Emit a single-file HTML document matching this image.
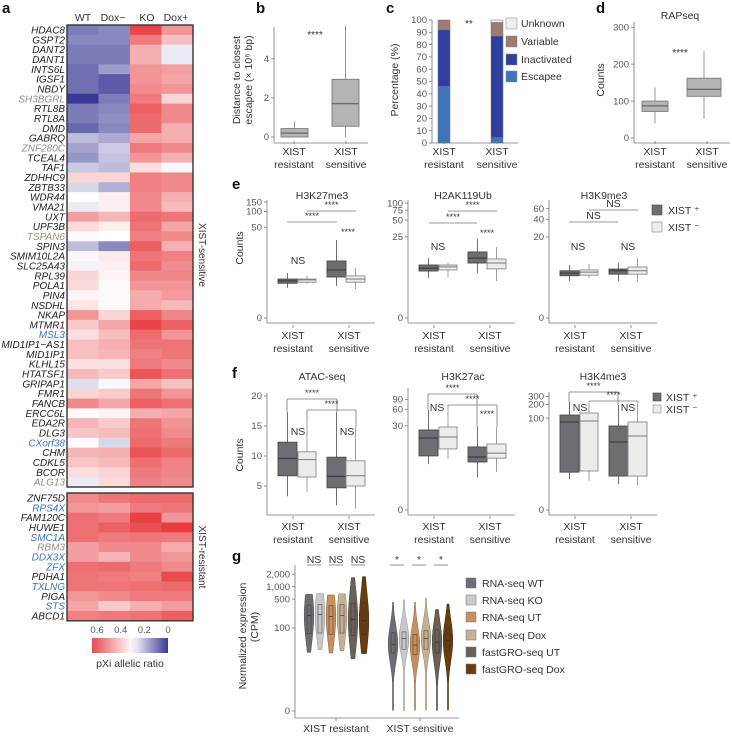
<!DOCTYPE html>
<html><head><meta charset="utf-8">
<style>
html,body{margin:0;padding:0;background:#fff;}
svg{display:block;font-family:"Liberation Sans",Arial,sans-serif;}
</style></head>
<body>
<svg id="fig" width="732" height="738" viewBox="0 0 732 738" xmlns="http://www.w3.org/2000/svg"></svg>
<script>
// ---------- DATA ----------
const geneNamesSens = ["HDAC8","GSPT2","DANT2","DANT1","INTS6L","IGSF1","NBDY","SH3BGRL","RTL8B","RTL8A","DMD","GABRQ","ZNF280C","TCEAL4","TAF1","ZDHHC9","ZBTB33","WDR44","VMA21","UXT","UPF3B","TSPAN6","SPIN3","SMIM10L2A","SLC25A43","RPL39","POLA1","PIN4","NSDHL","NKAP","MTMR1","MSL3","MID1IP1−AS1","MID1IP1","KLHL15","HTATSF1","GRIPAP1","FMR1","FANCB","ERCC6L","EDA2R","DLG3","CXorf38","CHM","CDKL5","BCOR","ALG13"];
const geneNamesRes = ["ZNF75D","RPS4X","FAM120C","HUWE1","SMC1A","RBM3","DDX3X","ZFX","PDHA1","TXLNG","PIGA","STS","ABCD1"];
const heatColumns = ["WT","Dox−","KO","Dox+"];
const heatSens = [
[0.10,0.12,0.65,0.50],[0.12,0.12,0.55,0.42],[0.10,0.10,0.45,0.27],[0.10,0.10,0.45,0.27],
[0.08,0.15,0.50,0.48],[0.08,0.05,0.50,0.47],[0.08,0.05,0.52,0.50],[0.00,0.10,0.55,0.38],
[0.10,0.12,0.60,0.52],[0.10,0.13,0.58,0.52],[0.07,0.12,0.58,0.45],[0.20,0.17,0.47,0.45],
[0.16,0.22,0.55,0.52],[0.14,0.21,0.50,0.45],[0.22,0.20,0.36,0.29],[0.38,0.38,0.54,0.52],
[0.24,0.18,0.54,0.52],[0.30,0.33,0.52,0.45],[0.27,0.33,0.52,0.43],[0.48,0.44,0.58,0.56],
[0.37,0.33,0.56,0.47],[0.31,0.30,0.54,0.52],[0.20,0.12,0.60,0.45],[0.29,0.34,0.56,0.54],
[0.28,0.33,0.58,0.52],[0.38,0.32,0.53,0.53],[0.37,0.31,0.50,0.50],[0.32,0.31,0.46,0.49],
[0.35,0.31,0.46,0.43],[0.50,0.38,0.60,0.53],[0.40,0.47,0.65,0.60],[0.36,0.42,0.58,0.50],
[0.42,0.45,0.56,0.56],[0.42,0.44,0.54,0.56],[0.36,0.36,0.55,0.52],[0.43,0.40,0.62,0.57],
[0.25,0.29,0.47,0.42],[0.38,0.40,0.56,0.50],[0.52,0.47,0.60,0.57],[0.31,0.32,0.45,0.47],
[0.44,0.40,0.56,0.50],[0.41,0.43,0.57,0.52],[0.31,0.24,0.58,0.55],[0.44,0.45,0.62,0.58],
[0.41,0.43,0.57,0.54],[0.36,0.38,0.55,0.53],[0.27,0.37,0.54,0.52]];
const heatRes = [
[0.52,0.56,0.58,0.58],[0.50,0.48,0.55,0.56],[0.57,0.55,0.66,0.50],[0.57,0.60,0.63,0.67],
[0.57,0.55,0.56,0.55],[0.48,0.52,0.52,0.46],[0.48,0.44,0.52,0.50],[0.57,0.58,0.55,0.52],
[0.56,0.55,0.54,0.64],[0.56,0.56,0.57,0.58],[0.50,0.52,0.55,0.55],[0.47,0.40,0.45,0.48],
[0.54,0.55,0.56,0.60]];
const geneGrey = ["SH3BGRL","ZNF280C","TSPAN6","ALG13","RBM3"];
const geneBlue = ["MSL3","CXorf38","RPS4X","SMC1A","DDX3X","ZFX","TXLNG","STS"];
const colorbarTicks = [0.6,0.4,0.2,0];

// panel b: [min,q1,median,q3,max] in 10^6 bp
const bCategories = ["XIST resistant","XIST sensitive"];
const bStats = [[0,0.0,0.2,0.43,0.8],[0,0.55,1.7,2.95,5.7]];
const bTicks = [0,2,4];
// panel c
const cEscapee = [46,4.5];
const cInactivated = [46,82.5];
const cVariable = [8,11];
const cUnknown = [0,2];
const cTicks = [0,10,20,30,40,50,60,70,80,90,100];
// panel d
const dStats = [[40,72,87,100,137],[52,113,132,162,235]];
const dTicks = [0,100,200,300];
// panel e: [X+ res, X- res, X+ sens, X- sens]
const eK27Stats = [[2.7,3.5,4.0,4.4,6.0],[3.4,3.7,4.2,4.4,5.2],[3.0,4.9,7.0,10.8,28.3],[2.5,3.7,4.4,5.2,7.7]];
const eK27Ticks = [0,50,100,150];
const eK119Stats = [[4.0,5.6,6.4,7.4,10.1],[4.2,5.9,6.8,7.4,8.1],[5.1,8.1,10.1,13.2,22.9],[3.4,6.2,8.1,9.7,16.3]];
const eK119Ticks = [0,25,50,75,100];
const eK9Stats = [[3.0,3.9,4.4,4.9,6.3],[3.5,4.0,4.6,5.1,6.6],[3.0,4.2,4.9,5.3,6.9],[2.9,4.2,4.9,5.8,8.5]];
const eK9Ticks = [0,20,40,60];
// panel f
const fAtacStats = [[3.3,6.7,9.6,12.3,17.3],[4.0,6.5,9.4,10.7,15.7],[1.8,4.7,6.6,9.8,17.3],[1.2,5.0,6.7,9.2,14.8]];
const fAtacTicks = [5,10,15,20];
const fK27acStats = [[5.5,8.1,17.9,25.2,58.3],[7.0,11.1,18.7,28.6,65.9],[2.8,6.1,7.7,12.1,28.6],[3.7,7.3,9.2,13.8,28.6]];
const fK27acTicks = [0,30,60,90];
const fK4Stats = [[3.7,5.7,82.3,117,226],[3.3,6.1,86.5,130,226],[2.7,4.5,29.5,67,195],[2.5,4.5,40.2,82.3,215]];
const fK4Ticks = [0,100,200,300];
// panel g: [min,q1,median,q3,max] CPM
const gSeries = ["RNA-seq WT","RNA-seq KO","RNA-seq UT","RNA-seq Dox","fastGRO-seq UT","fastGRO-seq Dox"];
const gResistant = [[24,72,200,360,650],[28,75,210,370,680],[24,70,190,350,630],[26,75,200,370,670],[17,65,160,400,1650],[22,70,150,420,1750]];
const gSensitive = [[0,24,40,76,420],[0,30,55,80,480],[0,22,38,70,420],[0,30,55,85,520],[0,24,45,90,280],[0,28,50,100,380]];
const gTicks = [0,100,500,1000,2000];
const gTickLabels = ["0","100","500","1,000","2,000"];

// ---------- HELPERS ----------
const NS="http://www.w3.org/2000/svg";
const svg=document.getElementById('fig');
function el(tag,attrs,name,parent){
  const e=document.createElementNS(NS,tag);
  for(const k in attrs) e.setAttribute(k,attrs[k]);
  
  
  (parent||svg).appendChild(e);
  return e;
}
function txt(x,y,s,name,opts){
  opts=opts||{};
  const t=el('text',{x:x,y:y,'font-size':opts.size||10,fill:opts.fill||'#333','text-anchor':opts.anchor||'middle'},name);
  if(opts.weight) t.setAttribute('font-weight',opts.weight);
  if(opts.style) t.setAttribute('font-style',opts.style);
  if(opts.rot) t.setAttribute('transform','rotate('+opts.rot+' '+x+' '+y+')');
  t.textContent=s;
  return t;
}
function line(x1,y1,x2,y2,name,stroke,w){
  return el('line',{x1:x1,y1:y1,x2:x2,y2:y2,stroke:stroke||'#777','stroke-width':w||0.8},name);
}
function logScale(base,k){return v=>base-k*Math.log(1+v);}
function linScale(base,k){return v=>base-k*v;}
function hex(c){return 'rgb('+c.map(Math.round).join(',')+')';}
function heatColor(v){
  const red=[228,32,36],white=[255,255,255],blue=[58,58,150];
  if(v>=0.3){let t=Math.min(1,(v-0.3)/0.42);return hex(white.map((w,i)=>w+(red[i]-w)*t));}
  let t=Math.min(1,(0.3-v)/0.3);return hex(white.map((w,i)=>w+(blue[i]-w)*t));
}

// ---------- PANEL LETTERS ----------
[["a",2,13],["b",256,13],["c",386,13],["d",596,13],["e",232,189],["f",232,378],["g",232,561]].forEach(p=>{
  txt(p[1],p[2],p[0],'panel-label-'+p[0],{size:15,weight:'bold',anchor:'start',fill:'#111'});
});

// ---------- PANEL A: HEATMAP ----------
(function(){
  const x0=67,cw=31.5,rh=9.83;
  const colCx=[83,113,147,176];
  heatColumns.forEach((c,i)=>txt(colCx[i],21,c,'heatmap-column-label',{size:10.5}));
  function block(names,vals,top,nm){
    vals.forEach((row,r)=>{
      row.forEach((v,c)=>{
        el('rect',{x:x0+c*cw,y:top+r*rh,width:cw+0.4,height:rh+0.4,fill:heatColor(v)},'heatmap-cell');
      });
      const g=names[r];
      const col=geneGrey.includes(g)?'#9a8a80':(geneBlue.includes(g)?'#3d72c2':'#222');
      txt(65,top+r*rh+rh/2+3.6,g,'gene-label',{size:10,anchor:'end',style:'italic',fill:col});
    });
    el('rect',{x:x0,y:top,width:cw*4,height:vals.length*rh,fill:'none',stroke:'#333','stroke-width':1.4},nm);
  }
  block(geneNamesSens,heatSens,25,'xist-sensitive-block');
  block(geneNamesRes,heatRes,493,'xist-resistant-block');
  txt(199,255,'XIST-sensitive','xist-sensitive-label',{size:10,rot:90});
  txt(199,557,'XIST-resistant','xist-resistant-label',{size:10,rot:90});
  const defs=el('defs',{},'defs');
  const lg=el('linearGradient',{id:'cb',x1:'0',x2:'1',y1:'0',y2:'0'},'colorbar-gradient',defs);
  for(let i=0;i<=10;i++){
    const v=0.64-0.064*i;
    el('stop',{offset:(i*10)+'%','stop-color':heatColor(v)},'gradient-stop',lg);
  }
  el('rect',{x:92,y:638,width:76,height:15,fill:'url(#cb)'},'colorbar');
  const cbx=v=>168-v*118.3;
  colorbarTicks.forEach(t=>txt(cbx(t),633,String(t),'colorbar-tick',{size:9.5,fill:'#555'}));
  txt(130,667,'pXi allelic ratio','colorbar-title',{size:10.5});
})();

// ---------- BOX HELPER ----------
function drawBox(s,x0,x1,y,fill,stroke,medStroke,name){
  const cx=(x0+x1)/2;
  line(cx,y(s[4]),cx,y(s[3]),name+'-whisker-top',stroke,0.8);
  line(cx,y(s[1]),cx,y(s[0]),name+'-whisker-bottom',stroke,0.8);
  el('rect',{x:x0,y:y(s[3]),width:x1-x0,height:Math.max(0.8,y(s[1])-y(s[3])),fill:fill,stroke:stroke,'stroke-width':0.9},name);
  line(x0,y(s[2]),x1,y(s[2]),name+'-median',medStroke,1);
}
function yAxis(x,yTop,yBot,ticks,y,labels,name){
  line(x,yTop,x,yBot,name,'#777',0.8);
  ticks.forEach((t,i)=>{
    line(x-3,y(t),x,y(t),name+'-tick','#777',0.8);
    txt(x-5,y(t)+3.2,labels?labels[i]:String(t),name+'-tick-label',{size:9.5,anchor:'end',fill:'#555'});
  });
}
function xLabels(cxs,y1,name){
  cxs.forEach((cx,i)=>{
    line(cx,y1-12,cx,y1-9,name+'-tick','#777',0.8);
    txt(cx,y1+2,'XIST',name+'-label',{size:10.5});
    txt(cx,y1+15,i==0?'resistant':'sensitive',name+'-label',{size:10.5});
  });
}
function bracket(x1,x2,y,label,name,drops){
  line(x1,y,x2,y,name,'#777',0.8);
  if(drops){line(x1,y,x1,drops[0],name+'-drop','#777',0.8);line(x2,y,x2,drops[1],name+'-drop','#777',0.8);}
  txt((x1+x2)/2,y-3,label,name+'-label',{size:label=='NS'?10.5:9,fill:'#333'});
}

// ---------- PANEL B ----------
(function(){
  const y=linScale(137,19.55);
  yAxis(274,27,143,bTicks,y,null,'b-y-axis');
  line(274,143,368,143,'b-x-axis','#777',0.8);
  drawBox(bStats[0],281,308,y,'#b4b4b4','#7a7a7a','#555','b-box-resistant');
  drawBox(bStats[1],332,359,y,'#b4b4b4','#7a7a7a','#555','b-box-sensitive');
  txt(315,38,'****','b-significance',{size:10});
  xLabels([294,346],153,'b-x');
  txt(240,80,'Distance to closest','b-y-title',{size:10.5,rot:-90});
  txt(252,80,'escapee (× 10⁶ bp)','b-y-title',{size:10.5,rot:-90});
})();

// ---------- PANEL C ----------
(function(){
  const y=linScale(143,1.23);
  yAxis(432,20,143,cTicks,y,null,'c-y-axis');
  line(432,143,518,143,'c-x-axis','#777',0.8);
  const xs=[438,491],w=12;
  const layers=[[cEscapee,'#3f74ba','escapee'],[cInactivated,'#2e3f9f','inactivated'],[cVariable,'#9b7c70','variable'],[cUnknown,'#eeeeee','unknown']];
  [0,1].forEach(i=>{
    let acc=0;
    layers.forEach(L=>{
      const v=L[0][i];
      if(v>0) el('rect',{x:xs[i],y:y(acc+v),width:w,height:y(acc)-y(acc+v),fill:L[1],stroke:'#777','stroke-width':0.5},'c-bar-'+L[2]);
      acc+=v;
    });
  });
  txt(469,27,'**','c-significance',{size:10});
  xLabels([444,497],153,'c-x');
  txt(398,80,'Percentage (%)','c-y-title',{size:10.5,rot:-90});
  const leg=[['Unknown','#eeeeee',23],['Variable','#9b7c70',41],['Inactivated','#2e3f9f',59],['Escapee','#3f74ba',76]];
  leg.forEach(L=>{
    el('rect',{x:506,y:L[2]-5,width:11,height:11,fill:L[1],stroke:'#888','stroke-width':0.5},'c-legend-swatch');
    txt(521,L[2]+4,L[0],'c-legend-label',{size:10.5,anchor:'start'});
  });
})();

// ---------- PANEL D ----------
(function(){
  const y=linScale(138,0.369);
  yAxis(634,22,143,dTicks,y,null,'d-y-axis');
  line(634,143,730,143,'d-x-axis','#777',0.8);
  drawBox(dStats[0],642,668,y,'#b4b4b4','#7a7a7a','#555','d-box-resistant');
  drawBox(dStats[1],687,721,y,'#b4b4b4','#7a7a7a','#555','d-box-sensitive');
  txt(680,19,'RAPseq','d-title',{size:10.5});
  txt(680,56,'****','d-significance',{size:10});
  xLabels([655,707],153,'d-x');
  txt(604,80,'Counts','d-y-title',{size:10.5,rot:-90});
})();

// ---------- PANELS E/F ----------
function fourBox(stats,ax,y,name){
  const xs=[[ax+11,ax+30],[ax+31,ax+49],[ax+60,ax+79],[ax+79,ax+98]];
  stats.forEach((s,i)=>{
    const pos=i%2==0;
    drawBox(s,xs[i][0],xs[i][1],y,pos?'#6e6e72':'#ececec',pos?'#4a4a4e':'#8a8a8a',pos?'#333':'#777',name+'-box-'+(i<2?'resistant':'sensitive')+(pos?'-xist-pos':'-xist-neg'));
  });
  return xs.map(a=>(a[0]+a[1])/2);
}
(function(){
  const base=318;
  const defs=[[eK27Stats,eK27Ticks,267,375,23.1,'H3K27me3',322,'e-h3k27me3'],[eK119Stats,eK119Ticks,408,515,24.9,'H2AK119Ub',463,'e-h2ak119ub'],[eK9Stats,eK9Ticks,549,657,26.6,'H3K9me3',604,'e-h3k9me3']];
  defs.forEach(d=>{
    const y=logScale(base,d[4]);
    yAxis(d[2],200,323,d[1],y,null,d[7]+'-y-axis');
    line(d[2],323,d[3],323,d[7]+'-x-axis','#777',0.8);
    fourBox(d[0],d[2],y,d[7]);
    txt(d[6],199,d[5],d[7]+'-title',{size:10.5});
    xLabels([d[2]+26,d[2]+82],337,d[7]+'-x');
  });
  txt(298,264,'NS','e-h3k27me3-ns',{size:10.5});
  txt(348,235,'****','e-h3k27me3-stars',{size:9});
  bracket(287,337,222,'****','e-h3k27me3-bracket-1');
  bracket(307,356,211,'****','e-h3k27me3-bracket-2');
  txt(438,250,'NS','e-h2ak119ub-ns',{size:10.5});
  txt(487,236,'****','e-h2ak119ub-stars',{size:9});
  bracket(429,477,223,'****','e-h2ak119ub-bracket-1');
  bracket(448,497,211,'****','e-h2ak119ub-bracket-2');
  txt(578,250,'NS','e-h3k9me3-ns',{size:10.5});
  txt(628,250,'NS','e-h3k9me3-ns',{size:10.5});
  bracket(569,618,222,'NS','e-h3k9me3-bracket-1');
  bracket(589,638,210,'NS','e-h3k9me3-bracket-2');
  txt(243,248,'Counts','e-y-title',{size:10.5,rot:-90});
  el('rect',{x:652,y:205,width:10,height:10,fill:'#6e6e72',stroke:'#4a4a4e','stroke-width':0.6},'e-legend-swatch-xist-pos');
  txt(668,214,'XIST ⁺','e-legend-label',{size:10.5,anchor:'start'});
  el('rect',{x:652,y:222,width:10,height:10,fill:'#ececec',stroke:'#888','stroke-width':0.6},'e-legend-swatch-xist-neg');
  txt(668,231,'XIST ⁻','e-legend-label',{size:10.5,anchor:'start'});
})();
(function(){
  const yA=linScale(516,6.0), yB=logScale(510,24.5), yC=logScale(510,19.9);
  yAxis(267,393,515,fAtacTicks,yA,null,'f-atac-y-axis');
  line(267,515,375,515,'f-atac-x-axis','#777',0.8);
  fourBox(fAtacStats,267,yA,'f-atac');
  yAxis(408,388,515,fK27acTicks,yB,null,'f-h3k27ac-y-axis');
  line(408,515,515,515,'f-h3k27ac-x-axis','#777',0.8);
  fourBox(fK27acStats,408,yB,'f-h3k27ac');
  yAxis(549,392,515,fK4Ticks,yC,null,'f-h3k4me3-y-axis');
  line(549,515,657,515,'f-h3k4me3-x-axis','#777',0.8);
  fourBox(fK4Stats,549,yC,'f-h3k4me3');
  txt(322,380,'ATAC-seq','f-atac-title',{size:10.5});
  txt(463,380,'H3K27ac','f-h3k27ac-title',{size:10.5});
  txt(603,380,'H3K4me3','f-h3k4me3-title',{size:10.5});
  xLabels([293,349],528,'f-atac-x');
  xLabels([434,490],528,'f-h3k27ac-x');
  xLabels([575,631],528,'f-h3k4me3-x');
  bracket(287,337,399,'****','f-atac-bracket-1',[yA(fAtacStats[0][4]),yA(fAtacStats[2][4])]);
  bracket(307,356,410,'****','f-atac-bracket-2',[yA(fAtacStats[1][4]),yA(fAtacStats[3][4])]);
  txt(298,435,'NS','f-atac-ns',{size:10.5});
  txt(347,435,'NS','f-atac-ns',{size:10.5});
  bracket(428,477,394,'****','f-h3k27ac-bracket-1',[yB(fK27acStats[0][4]),yB(fK27acStats[2][4])]);
  bracket(448,497,405,'****','f-h3k27ac-bracket-2',[yB(fK27acStats[1][4]),yB(fK27acStats[3][4])]);
  txt(437,411,'NS','f-h3k27ac-ns',{size:10.5});
  txt(487,417,'****','f-h3k27ac-stars',{size:9});
  bracket(569,618,392,'****','f-h3k4me3-bracket-1',[yC(fK4Stats[0][4]),yC(fK4Stats[2][4])]);
  bracket(589,638,401,'****','f-h3k4me3-bracket-2',[yC(fK4Stats[1][4]),yC(fK4Stats[3][4])]);
  txt(580,411,'NS','f-h3k4me3-ns',{size:10.5});
  txt(628,411,'NS','f-h3k4me3-ns',{size:10.5});
  txt(243,455,'Counts','f-y-title',{size:10.5,rot:-90});
  el('rect',{x:653,y:393,width:8,height:8,fill:'#6e6e72',stroke:'#4a4a4e','stroke-width':0.6},'f-legend-swatch-xist-pos');
  txt(666,401,'XIST ⁺','f-legend-label',{size:10.5,anchor:'start'});
  el('rect',{x:653,y:405,width:8,height:8,fill:'#ececec',stroke:'#888','stroke-width':0.6},'f-legend-swatch-xist-neg');
  txt(666,413,'XIST ⁻','f-legend-label',{size:10.5,anchor:'start'});
})();

// ---------- PANEL G ----------
(function(){
  const y=logScale(711,18.0);
  const colors=['#6d6e73','#c8c9cc','#c9905f','#c2b195','#6b6157','#6a3d0e'];
  const strokes=['#444','#888','#8a5e38','#8a7b62','#3e3730','#3e2206'];
  yAxis(295,565,718,gTicks,y,gTickLabels,'g-y-axis');
  line(295,718,459,718,'g-x-axis','#777',0.8);
  const resX=[309,320,331,342,353,364], senX=[393,404,415,426,437,448];
  function violin(s,cx,col,st,name){
    const yMin=y(s[0]),yMax=y(s[4]),yMed=y(s[2]);
    const sig=Math.max(10,(y(s[1])-y(s[3]))*0.9),hw=4.8;
    let L=[],R=[];
    for(let yy=yMax;yy<=yMin+0.01;yy+=1){
      const w=Math.max(0.5,hw*Math.exp(-0.5*Math.pow((yy-yMed)/sig,2)));
      L.push([cx-w,yy]);R.push([cx+w,yy]);
    }
    const pts=L.concat(R.reverse());
    el('path',{d:'M'+pts.map(p=>p[0].toFixed(2)+','+p[1].toFixed(2)).join('L')+'Z',fill:col,stroke:st,'stroke-width':0.5},name);
    el('rect',{x:cx-2,y:y(s[3]),width:4,height:y(s[1])-y(s[3]),fill:'none',stroke:'#333','stroke-width':0.5},name+'-box');
    line(cx-2,yMed,cx+2,yMed,name+'-median','#222',0.6);
  }
  gResistant.forEach((s,i)=>violin(s,resX[i],colors[i],strokes[i],'g-violin-resistant'));
  gSensitive.forEach((s,i)=>violin(s,senX[i],colors[i],strokes[i],'g-violin-sensitive'));
  line(336,718,336,721,'g-x-tick','#777',0.8);
  line(420,718,420,721,'g-x-tick','#777',0.8);
  txt(336,732,'XIST resistant','g-x-label',{size:10.5});
  txt(420,732,'XIST sensitive','g-x-label',{size:10.5});
  [[314,'NS'],[336,'NS'],[358,'NS'],[397,'*'],[419,'*'],[441,'*']].forEach(a=>{
    line(a[0]-7,565,a[0]+7,565,'g-significance-line','#777',0.8);
    txt(a[0],563,a[1],'g-significance',{size:a[1]=='NS'?10.5:10});
  });
  txt(246,636,'Normalized expression','g-y-title',{size:10.5,rot:-90});
  txt(258,627,'(CPM)','g-y-title',{size:10.5,rot:-90});
  const ly=[583,600,617,635,652,669];
  gSeries.forEach((n,i)=>{
    el('rect',{x:466,y:ly[i]-5,width:10,height:10,fill:colors[i],stroke:'#777','stroke-width':0.5},'g-legend-swatch');
    txt(482,ly[i]+4,n,'g-legend-label',{size:10.5,anchor:'start'});
  });
})();
</script>
</body></html>
